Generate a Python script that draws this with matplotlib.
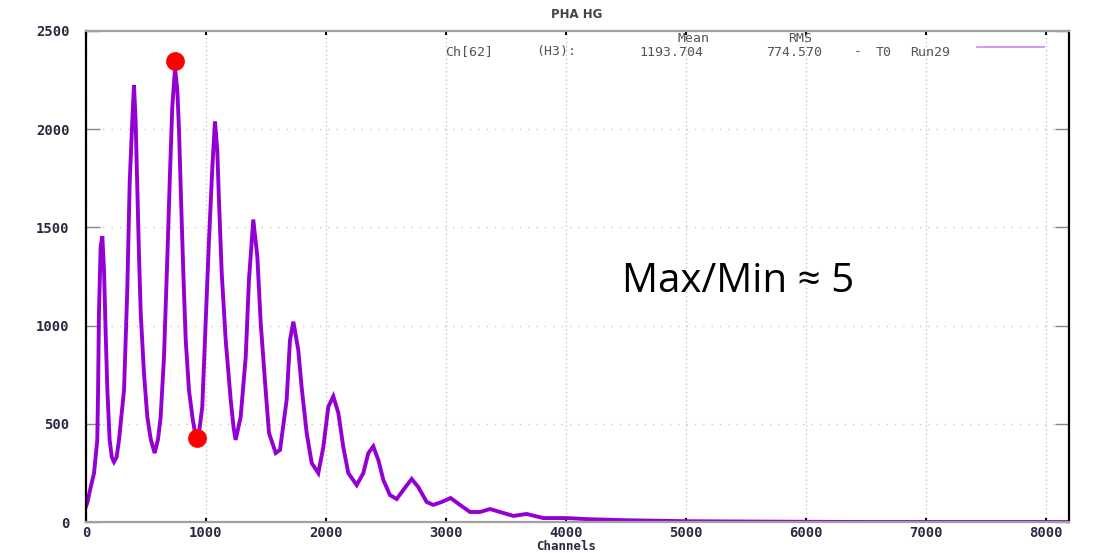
import matplotlib
matplotlib.use("Agg")
import matplotlib.pyplot as plt

# PHA spectrum (channel, counts)
channels = [0, 11, 40, 67, 94, 100, 108, 122, 136, 150, 164, 178, 197, 215, 233,
            255, 275, 317, 344, 364, 386, 400, 414, 428, 442, 456, 483, 511, 540,
            572, 600, 622, 650, 678, 700, 719, 742, 761, 775, 794, 811, 831, 858,
            890, 919, 945, 969, 997, 1025, 1053, 1075, 1094, 1108, 1131, 1164,
            1206, 1230, 1247, 1289, 1331, 1358, 1394, 1428, 1456, 1497, 1525,
            1581, 1617, 1672, 1700, 1728, 1769, 1797, 1839, 1881, 1936, 1978,
            2019, 2061, 2103, 2144, 2186, 2256, 2311, 2353, 2394, 2436, 2478,
            2533, 2589, 2644, 2714, 2769, 2839, 2894, 2964, 3039, 3117, 3200,
            3283, 3367, 3450, 3561, 3672, 3811, 4006, 4200, 4500, 4800, 5000,
            5300, 5600, 6000, 6500, 7000, 8190]
counts = [80, 97, 180, 249, 418, 637, 1064, 1400, 1455, 1283, 962, 672, 418, 330, 306,
          330, 418, 672, 1181, 1726, 2047, 2225, 2032, 1690, 1350, 1064, 758, 535, 420,
          351, 420, 535, 840, 1350, 1777, 2113, 2310, 2200, 1996, 1604, 1268, 927, 672,
          520, 420, 470, 586, 1013, 1436, 1808, 2040, 1894, 1640, 1268, 927,
          621, 480, 418, 535, 840, 1232, 1540, 1350, 1013, 672, 453,
          351, 367, 621, 927, 1020, 876, 687, 453, 300, 249, 382,
          586, 640, 555, 382, 249, 188, 249, 351, 385, 316, 214,
          137, 117, 163, 219, 178, 102, 87, 102, 122, 87, 51,
          51, 66, 51, 31, 41, 20, 20, 14, 9, 6, 4,
          3, 2, 1, 0, 0, 0]

# marked points
max_pt = (744, 2345)
min_pt = (928, 428)

y_ticks = [0, 500, 1000, 1500, 2000, 2500]
x_ticks = [0, 1000, 2000, 3000, 4000, 5000, 6000, 7000, 8000]

fig = plt.figure(figsize=(11.06, 5.53), dpi=100)
ax = fig.add_axes([86 / 1106, 1 - 522 / 553, (1069 - 86) / 1106, (522 - 31) / 553])

ax.plot(channels, counts, color="#9400d3", lw=2.8, solid_joinstyle="miter")
ax.plot(*max_pt, "o", color="red", ms=12.5, zorder=5)
ax.plot(*min_pt, "o", color="red", ms=12.5, zorder=5)

ax.set_xlim(0, 8192)
ax.set_ylim(0, 2500)
ax.set_xticks(x_ticks)
ax.set_yticks(y_ticks)

ax.grid(axis="y", color="#c8c8c8", lw=1, linestyle=(0, (1, 5)))
ax.grid(axis="x", color="#c8c8c8", lw=1, linestyle=(0, (1, 2)))
ax.set_axisbelow(True)

for side in ["left", "right"]:
    ax.spines[side].set_color("black")
    ax.spines[side].set_linewidth(1.6)
for side in ["top", "bottom"]:
    ax.spines[side].set_color("#a0a0a0")
    ax.spines[side].set_linewidth(1.6)

ax.tick_params(axis="y", direction="in", length=10, width=1, color="#888888",
               left=True, right=True, labelsize=10, labelcolor="#2a2a40", pad=12)
ax.tick_params(axis="x", direction="in", length=3, width=1.5, color="black",
               top=True, bottom=True, labelsize=10, labelcolor="#2a2a40", pad=3)
for lab in ax.get_xticklabels() + ax.get_yticklabels():
    lab.set_family("DejaVu Sans Mono")
    lab.set_fontweight("bold")

ax.set_xlabel("Channels", family="DejaVu Sans Mono", fontweight="bold",
              fontsize=9, color="#2a2a40")
ax.xaxis.set_label_coords(0.488, -0.037)

fig.text(577 / 1106, 1 - 15 / 553, "PHA HG", ha="center", va="center",
         fontsize=8.5, color="#444444", fontweight="bold")

# key text, placed word by word like the gnuplot key
key_font = dict(family="DejaVu Sans Mono", fontsize=9.5, color="#555555",
                va="center", ha="center")
fig.text(693 / 1106, 1 - 38 / 553, "Mean", **key_font)
fig.text(800 / 1106, 1 - 38 / 553, "RMS", **key_font)
key_words = ["Ch[62]", "(H3):", "1193.704", "774.570", "-", "T0", "Run29"]
key_x = [469, 556, 671, 794, 858, 884, 930]
for w, x in zip(key_words, key_x):
    fig.text(x / 1106, 1 - 52 / 553, w, **key_font)
fig.add_artist(plt.Line2D([977 / 1106, 1044 / 1106], [1 - 47 / 553, 1 - 47 / 553],
                          color="#cc88ee", lw=1.2))

ax.text(0.545, 0.49, "Max/Min \u2248 5", transform=ax.transAxes,
        family=["Open Sans", "DejaVu Sans"], fontsize=29, color="black",
        ha="left", va="center")

fig.savefig("out.png", dpi=100)
